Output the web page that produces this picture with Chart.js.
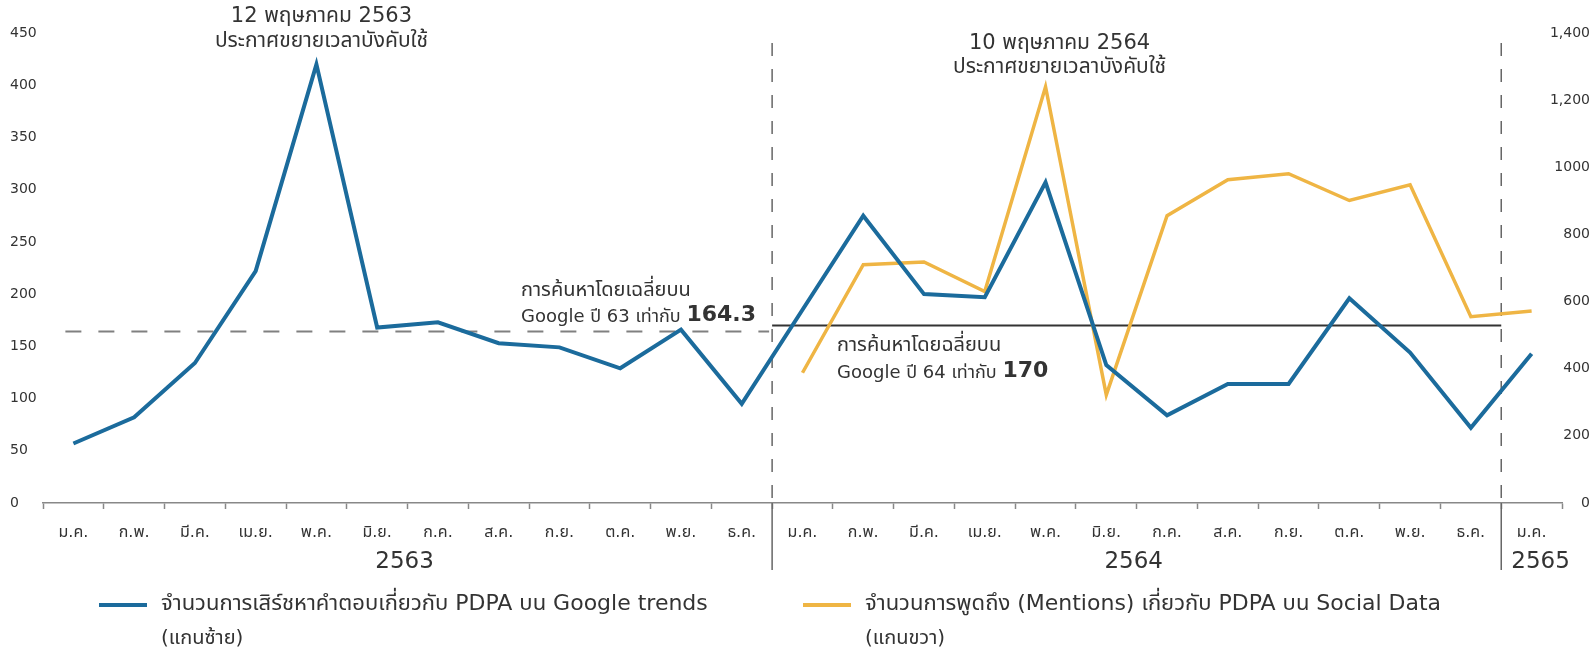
<!DOCTYPE html>
<html lang="th">
<head>
<meta charset="utf-8">
<title>PDPA Google trends / Social Data</title>
<script src="https://cdn.jsdelivr.net/npm/chart.js@4/dist/chart.umd.min.js"></script>
<style>
    html, body { margin: 0; padding: 0; background: #fff; }
    #wrap { position: relative; width: 1594px; height: 650px; }
</style>
</head>
<body>
<div id="wrap"><canvas id="chart_pdpa"></canvas></div>
<script>
const months = ['ม.ค.', 'ก.พ.', 'มี.ค.', 'เม.ย.', 'พ.ค.', 'มิ.ย.', 'ก.ค.', 'ส.ค.', 'ก.ย.', 'ต.ค.', 'พ.ย.', 'ธ.ค.'];
const monthLabels = [...months, ...months, 'ม.ค.'];
const years = ['2563', '2564', '2565'];
const yearSpans = [12, 12, 1];

// จำนวนการเสิร์ช (แกนซ้าย)
const googleTrends = [57, 82, 134, 222, 420, 168, 173, 153, 149, 129, 166, 95,
    185, 275, 200, 197, 307, 132, 84, 114, 114, 196, 144, 72, 143];
// จำนวนการพูดถึง (แกนขวา) - เริ่ม ม.ค. 2564
const socialMentions = [null, null, null, null, null, null, null, null, null, null, null, null,
    388, 710, 718, 630, 1240, 322, 856, 963, 981, 901, 948, 555, 572];

const rightTickLabels = ['0', '200', '400', '600', '800', '1000', '1,200', '1,400'];

const avgSearch = [164.3, 170];
const avgLabels = [['การค้นหาโดยเฉลี่ยบน', 'Google ปี 63 เท่ากับ ', '164.3'], ['การค้นหาโดยฉลี่ยบน', 'Google ปี 64 เท่ากับ ', '170']];
const notes = [['12 พฤษภาคม 2563', 'ประกาศขยายเวลาบังคับใช้'], ['10 พฤษภาคม 2564', 'ประกาศขยายเวลาบังคับใช้']];
const legendItems = [
    ['จำนวนการเสิร์ชหาคำตอบเกี่ยวกับ PDPA บน Google trends', '(แกนซ้าย)'],
    ['จำนวนการพูดถึง (Mentions) เกี่ยวกับ PDPA บน Social Data', '(แกนขวา)'],
];

const BLUE = '#1b6b9c';
const ORANGE = '#efb544';
const TEXT = '#333';
const FONT = '"DejaVu Sans", "Noto Sans Thai", sans-serif';

const text = (ctx, str, x, y, size, align, weight) => {
    ctx.font = `${weight || 'normal'} ${size}px ${FONT}`;
    ctx.textAlign = align || 'left';
    ctx.textBaseline = 'middle';
    ctx.fillStyle = TEXT;
    ctx.fillText(str, x, y);
    return ctx.measureText(str).width;
};

const boundary = (xs, i) => (xs.getPixelForValue(i - 1) + xs.getPixelForValue(i)) / 2;

const decor = {
    id: 'decor',
    beforeDatasetsDraw(chart) {
        const { ctx, chartArea: area, scales: { x, y } } = chart;
        ctx.save();
        // year separators
        let idx = 0;
        yearSpans.slice(0, -1).forEach((span) => {
            idx += span;
            const bx = boundary(x, idx);
            ctx.strokeStyle = '#666';
            ctx.lineWidth = 1.5;
            ctx.setLineDash([13, 13]);
            ctx.beginPath();
            ctx.moveTo(bx, area.top + 10);
            ctx.lineTo(bx, area.bottom);
            ctx.stroke();
            ctx.setLineDash([]);
            ctx.beginPath();
            ctx.moveTo(bx, area.bottom);
            ctx.lineTo(bx, area.bottom + 67);
            ctx.stroke();
        });
        // average lines
        const y63 = y.getPixelForValue(avgSearch[0]);
        ctx.strokeStyle = '#808080';
        ctx.lineWidth = 2;
        ctx.setLineDash([16, 17]);
        ctx.beginPath();
        ctx.moveTo(x.getPixelForValue(0) - 8, y63);
        ctx.lineTo(boundary(x, 12) - 3, y63);
        ctx.stroke();
        ctx.setLineDash([]);
        const y64 = y.getPixelForValue(avgSearch[1]);
        ctx.strokeStyle = '#333';
        ctx.lineWidth = 2;
        ctx.beginPath();
        ctx.moveTo(boundary(x, 12), y64);
        ctx.lineTo(boundary(x, 24), y64);
        ctx.stroke();
        ctx.restore();
    },
    afterDraw(chart) {
        const { ctx, chartArea: area, scales: { x, y, y1 } } = chart;
        ctx.save();
        // right axis labels
        y1.ticks.forEach((t, i) => {
            text(ctx, rightTickLabels[i], chart.width - 4, y1.getPixelForValue(t.value), 14, 'right');
        });
        // year labels
        let start = 0;
        years.forEach((yr, i) => {
            const end = start + yearSpans[i];
            const left = start === 0 ? area.left : boundary(x, start);
            const right = end >= monthLabels.length ? area.right : boundary(x, end);
            text(ctx, yr, (left + right) / 2 + (i === 2 ? 9 : -3), area.bottom + 59, 23, 'center');
            start = end;
        });
        // notes above the peaks
        [[4, 5, 17, 42], [16, 14, 44, 68]].forEach(([i, dx, t1, t2], n) => {
            const cx = x.getPixelForValue(i) + dx;
            text(ctx, notes[n][0], cx, t1, 21, 'center');
            text(ctx, notes[n][1], cx, t2, 21, 'center');
        });
        // average labels
        const y63 = y.getPixelForValue(avgSearch[0]);
        let w = text(ctx, avgLabels[0][1], 521, y63 - 14, 18);
        text(ctx, avgLabels[0][2], 521 + w, y63 - 16, 22, 'left', 'bold');
        text(ctx, avgLabels[0][0], 521, y63 - 41, 20);
        const y64 = y.getPixelForValue(avgSearch[1]);
        text(ctx, avgLabels[1][0], 837, y64 + 20, 20);
        w = text(ctx, avgLabels[1][1], 837, y64 + 48, 18);
        text(ctx, avgLabels[1][2], 837 + w, y64 + 46, 22, 'left', 'bold');
        // legend
        [[99, BLUE], [803, ORANGE]].forEach(([lx, color], n) => {
            ctx.strokeStyle = color;
            ctx.lineWidth = 4;
            ctx.beginPath();
            ctx.moveTo(lx, 605);
            ctx.lineTo(lx + 48, 605);
            ctx.stroke();
            text(ctx, legendItems[n][0], lx + 62, 604, 22);
            text(ctx, legendItems[n][1], lx + 62, 639, 20);
        });
        ctx.restore();
    },
};

const ctxPdpa = document.getElementById('chart_pdpa');
const chartPdpa = new Chart(ctxPdpa, {
    type: 'line',
    data: {
        labels: monthLabels,
        datasets: [
            {
                label: legendItems[0][0],
                data: googleTrends,
                borderColor: BLUE,
                backgroundColor: BLUE,
                borderWidth: 4,
                pointRadius: 0,
                tension: 0,
                yAxisID: 'y',
            },
            {
                label: legendItems[1][0],
                data: socialMentions,
                borderColor: ORANGE,
                backgroundColor: ORANGE,
                borderWidth: 3.5,
                pointRadius: 0,
                tension: 0,
                yAxisID: 'y1',
            },
        ],
    },
    options: {
        responsive: true,
        maintainAspectRatio: false,
        animation: false,
        layout: { padding: { left: 10, right: 4, top: 33, bottom: 0 } },
        scales: {
            x: {
                offset: true,
                grid: { offset: true, drawOnChartArea: false, drawTicks: true, tickLength: 6, tickColor: '#888', tickWidth: 1.5 },
                border: { display: true, color: '#888', width: 1.5 },
                ticks: {
                    autoSkip: false,
                    maxRotation: 0,
                    padding: 14,
                    color: TEXT,
                    font: { family: FONT, size: 16 },
                },
                afterFit: (scale) => { scale.height = 147; },
            },
            y: {
                position: 'left',
                min: 0,
                max: 450,
                grid: { display: false },
                border: { display: false },
                ticks: { stepSize: 50, crossAlign: 'far', color: TEXT, font: { family: FONT, size: 14 } },
                afterFit: (scale) => { scale.width = 33; },
            },
            y1: {
                position: 'right',
                min: 0,
                max: 1400,
                grid: { display: false },
                border: { display: false },
                ticks: { display: false, stepSize: 200 },
                afterFit: (scale) => { scale.width = 28; },
            },
        },
        plugins: {
            legend: { display: false },
            title: { display: false },
            tooltip: { enabled: false },
        },
    },
    plugins: [decor],
});
</script>
</body>
</html>
